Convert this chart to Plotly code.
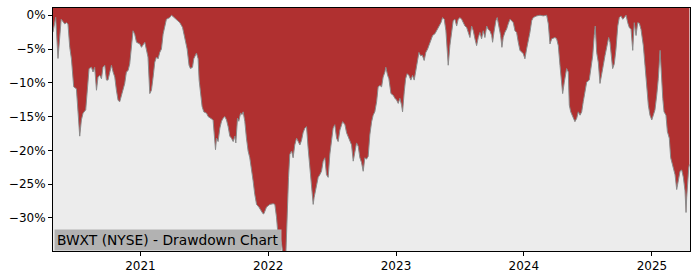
import pandas as pd
import plotly.graph_objects as go

# time as decimal years, drawdown in percent
years = [
    2020.316, 2020.337, 2020.355, 2020.380, 2020.408, 2020.421, 2020.433, 2020.447, 2020.460, 2020.478,
    2020.499, 2020.512, 2020.525, 2020.538, 2020.551, 2020.572, 2020.582, 2020.598, 2020.617, 2020.629,
    2020.642, 2020.656, 2020.668, 2020.682, 2020.695, 2020.707, 2020.721, 2020.734, 2020.746, 2020.760,
    2020.773, 2020.786, 2020.799, 2020.812, 2020.825, 2020.838, 2020.864, 2020.877, 2020.890, 2020.903,
    2020.916, 2020.930, 2020.942, 2020.955, 2020.969, 2020.995, 2021.008, 2021.034, 2021.047, 2021.059,
    2021.073, 2021.086, 2021.099, 2021.112, 2021.125, 2021.138, 2021.151, 2021.164, 2021.177, 2021.190,
    2021.203, 2021.229, 2021.243, 2021.255, 2021.282, 2021.308, 2021.329, 2021.339, 2021.354, 2021.365,
    2021.380, 2021.391, 2021.407, 2021.417, 2021.438, 2021.451, 2021.459, 2021.470, 2021.482, 2021.495,
    2021.517, 2021.529, 2021.548, 2021.568, 2021.587, 2021.595, 2021.607, 2021.621, 2021.634, 2021.646,
    2021.660, 2021.673, 2021.686, 2021.699, 2021.712, 2021.725, 2021.738, 2021.746, 2021.759, 2021.769,
    2021.783, 2021.795, 2021.803, 2021.816, 2021.829, 2021.842, 2021.855, 2021.869, 2021.881, 2021.894,
    2021.908, 2021.926, 2021.941, 2021.959, 2021.965, 2021.986, 2022.012, 2022.038, 2022.051, 2022.064,
    2022.077, 2022.090, 2022.103, 2022.116, 2022.137, 2022.147, 2022.158, 2022.168, 2022.182, 2022.194,
    2022.207, 2022.221, 2022.233, 2022.247, 2022.260, 2022.272, 2022.286, 2022.299, 2022.311, 2022.325,
    2022.338, 2022.351, 2022.358, 2022.372, 2022.390, 2022.403, 2022.416, 2022.429, 2022.442, 2022.455,
    2022.468, 2022.481, 2022.495, 2022.507, 2022.520, 2022.534, 2022.546, 2022.560, 2022.581, 2022.599,
    2022.612, 2022.624, 2022.638, 2022.651, 2022.664, 2022.677, 2022.690, 2022.703, 2022.716, 2022.729,
    2022.742, 2022.755, 2022.768, 2022.781, 2022.794, 2022.808, 2022.820, 2022.833, 2022.847, 2022.859,
    2022.873, 2022.886, 2022.898, 2022.912, 2022.919, 2022.933, 2022.943, 2022.959, 2022.977, 2022.990,
    2023.003, 2023.016, 2023.029, 2023.042, 2023.050, 2023.063, 2023.074, 2023.086, 2023.099, 2023.115,
    2023.128, 2023.141, 2023.152, 2023.164, 2023.178, 2023.191, 2023.204, 2023.219, 2023.232, 2023.246,
    2023.258, 2023.272, 2023.285, 2023.303, 2023.316, 2023.329, 2023.350, 2023.363, 2023.376, 2023.389,
    2023.399, 2023.407, 2023.420, 2023.434, 2023.446, 2023.459, 2023.473, 2023.485, 2023.499, 2023.512,
    2023.524, 2023.538, 2023.551, 2023.563, 2023.577, 2023.590, 2023.603, 2023.616, 2023.629, 2023.642,
    2023.655, 2023.668, 2023.681, 2023.694, 2023.708, 2023.720, 2023.733, 2023.747, 2023.754, 2023.765,
    2023.780, 2023.790, 2023.804, 2023.817, 2023.827, 2023.837, 2023.851, 2023.864, 2023.876, 2023.890,
    2023.903, 2023.916, 2023.929, 2023.942, 2023.955, 2023.968, 2023.994, 2024.007, 2024.020, 2024.033,
    2024.046, 2024.060, 2024.072, 2024.099, 2024.125, 2024.150, 2024.177, 2024.190, 2024.203, 2024.216,
    2024.242, 2024.255, 2024.268, 2024.281, 2024.294, 2024.302, 2024.315, 2024.333, 2024.346, 2024.354,
    2024.365, 2024.380, 2024.398, 2024.412, 2024.424, 2024.438, 2024.451, 2024.463, 2024.477, 2024.490,
    2024.510, 2024.521, 2024.537, 2024.549, 2024.557, 2024.568, 2024.581, 2024.594, 2024.607, 2024.620,
    2024.633, 2024.646, 2024.662, 2024.672, 2024.686, 2024.693, 2024.706, 2024.719, 2024.733, 2024.745,
    2024.758, 2024.772, 2024.784, 2024.798, 2024.811, 2024.823, 2024.837, 2024.850, 2024.862, 2024.876,
    2024.889, 2024.902, 2024.915, 2024.933, 2024.946, 2024.960, 2024.972, 2024.985, 2024.999, 2025.011,
    2025.024, 2025.038, 2025.050, 2025.064, 2025.071, 2025.085, 2025.095, 2025.110, 2025.121, 2025.136,
    2025.147, 2025.163, 2025.181, 2025.194, 2025.207, 2025.220, 2025.233, 2025.246, 2025.259, 2025.267,
    2025.272, 2025.280, 2025.288, 2025.293,
]

drawdown = [
    -2.5, -0.3, -6.4, -0.6, -1.3, -1.1, -1.3, -4.75, -6.45, -10.6,
    -10.9, -14.0, -17.9, -15.5, -14.5, -14.0, -11.6, -7.9, -7.7, -8.4,
    -7.7, -11.1, -9.15, -8.9, -9.4, -7.7, -7.4, -9.6, -9.6, -8.4,
    -7.4, -8.4, -9.15, -11.1, -12.6, -12.8, -11.1, -10.1, -8.4, -8.2,
    -7.2, -4.25, -2.3, -2.8, -4.0, -4.25, -4.75, -4.0, -5.2, -6.2,
    -11.6, -11.1, -9.15, -6.95, -6.2, -6.45, -5.5, -5.0, -2.8, -1.6,
    -0.6, -0.35, 0.0, -0.2, -0.6, -1.1, -1.8, -2.8, -4.25, -5.0,
    -7.4, -7.9, -7.7, -6.45, -5.6, -6.45, -9.6, -11.6, -13.5, -14.3,
    -14.5, -15.0, -15.25, -15.5, -19.9, -18.2, -18.7, -16.7, -15.7, -15.25,
    -15.0, -15.5, -16.5, -17.9, -18.2, -18.7, -17.9, -18.9, -15.25, -15.7,
    -14.5, -14.7, -14.3, -15.7, -18.2, -20.1, -21.1, -22.6, -24.5, -26.5,
    -28.0, -28.4, -28.9, -29.4, -29.4, -28.4, -28.0, -27.9, -28.0, -29.9,
    -32.8, -32.6, -33.8, -35.5, -35.5, -28.0, -24.0, -20.6, -20.1, -21.1,
    -19.2, -18.2, -18.7, -19.2, -18.5, -17.4, -16.7, -16.5, -19.6, -22.6,
    -25.0, -28.0, -27.0, -25.5, -24.0, -23.6, -23.1, -21.6, -21.1, -23.6,
    -24.0, -20.6, -18.2, -16.7, -16.2, -18.2, -18.7, -17.0, -15.75, -16.2,
    -17.4, -17.9, -18.4, -19.2, -21.6, -20.1, -18.9, -19.4, -21.1, -21.8,
    -23.1, -21.1, -21.3, -20.9, -17.7, -15.75, -14.8, -14.3, -12.8, -10.6,
    -10.4, -10.6, -9.15, -8.4, -7.7, -8.9, -9.4, -11.6, -11.85, -12.3,
    -12.55, -13.05, -12.3, -13.3, -14.3, -11.35, -9.4, -8.65, -8.9, -9.6,
    -8.9, -9.6, -8.4, -6.45, -5.5, -6.0, -5.9, -6.7, -5.5, -5.0,
    -4.3, -3.5, -3.0, -2.75, -2.3, -1.8, -1.1, -0.35, -0.6, -2.3,
    -5.0, -7.4, -4.5, -2.5, -0.8, -0.6, -1.6, -0.6, -0.35, -0.6,
    -1.1, -1.6, -1.8, -2.5, -3.3, -1.6, -2.3, -3.5, -4.5, -3.3,
    -2.55, -3.5, -2.3, -3.3, -1.6, -2.1, -2.3, -3.0, -4.0, -2.5,
    -0.8, -0.35, -1.6, -3.0, -4.75, -3.3, -2.5, -2.05, -1.3, -0.6,
    -0.8, -1.1, -2.3, -2.55, -4.0, -5.2, -5.7, -6.45, -5.0, -4.0,
    -2.55, -0.8, -0.35, -0.1, 0.0, -0.1, 0.0, -1.3, -4.25, -3.5,
    -3.3, -3.5, -4.5, -7.4, -9.9, -11.6, -9.9, -7.9, -8.4, -13.3,
    -14.3, -15.0, -15.75, -15.25, -14.3, -14.8, -14.3, -12.8, -11.35, -9.9,
    -9.6, -8.4, -6.0, -3.0, -1.6, -5.5, -7.0, -10.1, -8.4, -7.4,
    -6.0, -4.5, -3.3, -4.0, -6.45, -7.9, -7.2, -5.0, -1.6, -0.35,
    -0.1, -0.6, -0.35, 0.0, -1.1, -1.8, -2.1, -5.2, -1.1, -3.0,
    -1.1, -1.2, -2.1, -4.5, -7.4, -10.85, -13.3, -14.8, -15.5, -14.8,
    -14.0, -11.8, -9.4, -5.2, -8.4, -12.3, -14.3, -14.8, -17.2, -18.2,
    -21.1, -22.1, -23.6, -25.8, -24.6, -23.1, -22.9, -24.0, -26.0, -29.2,
    -27.0, -24.0, -22.6, -22.1,
]

x_range_years = [2020.316, 2025.298]
y_range = [-34.9, 1.07]
x_tick_years = [2021, 2022, 2023, 2024, 2025]
y_tick_values = [0, -5, -10, -15, -20, -25, -30]
y_tick_labels = ["0%", "\u22125%", "\u221210%", "\u221215%", "\u221220%", "\u221225%", "\u221230%"]
title_text = "BWXT (NYSE) - Drawdown Chart"


def to_dates(vals):
    s = pd.Series(vals, dtype=float)
    return pd.Timestamp("2021-01-01") + pd.to_timedelta((s - 2021) * 365.25, unit="D")


dates = to_dates(years)
x_range = to_dates(x_range_years)
x_ticks = [pd.Timestamp(f"{y}-01-01") for y in x_tick_years]

fig = go.Figure()
# top boundary (above the visible range) so the fill reaches the top of the plot
fig.add_trace(go.Scatter(x=dates, y=[5] * len(dates), mode="lines",
                         line=dict(width=0, color="rgba(0,0,0,0)"),
                         hoverinfo="skip", showlegend=False))
fig.add_trace(go.Scatter(x=dates, y=drawdown, mode="lines",
                         line=dict(width=1, color="#8a8a8a"),
                         fill="tonexty", fillcolor="#b03030",
                         showlegend=False))

font = dict(family="DejaVu Sans", size=12, color="#000000")

fig.update_layout(
    width=700, height=280,
    margin=dict(l=53, r=10, t=7, b=28),
    paper_bgcolor="#ffffff",
    plot_bgcolor="#ececec",
    font=font,
    showlegend=False,
    xaxis=dict(
        range=[x_range.iloc[0], x_range.iloc[1]],
        tickvals=x_ticks, ticktext=[str(y) for y in x_tick_years],
        showgrid=False, zeroline=False,
        showline=True, linecolor="#000000", linewidth=1, mirror=True,
        ticks="outside", ticklen=4, tickcolor="#000000", tickwidth=1,
        tickfont=font,
    ),
    yaxis=dict(
        range=y_range,
        tickvals=y_tick_values, ticktext=y_tick_labels,
        showgrid=False, zeroline=False,
        showline=True, linecolor="#000000", linewidth=1, mirror=True,
        ticks="outside", ticklen=4, tickcolor="#000000", tickwidth=1,
        tickfont=font,
    ),
    annotations=[dict(
        text=title_text, xref="paper", yref="paper", x=0, y=0,
        xanchor="left", yanchor="bottom", showarrow=False,
        font=dict(family="DejaVu Sans", size=13.8, color="#000000"),
        bgcolor="#b2b2b2", borderpad=2, xshift=0.5, yshift=0.5,
    )],
)

fig.write_html("out.html")
